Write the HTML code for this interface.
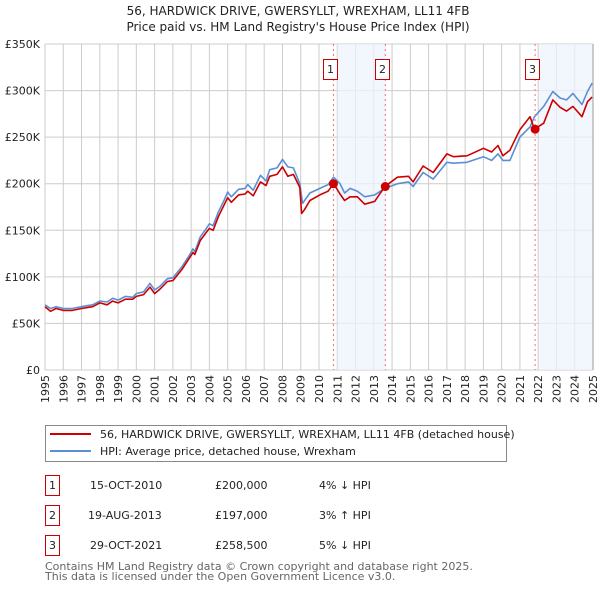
<!DOCTYPE html>
<html><head><meta charset="utf-8"><style>
body{margin:0;background:#fff;font-family:"DejaVu Sans","Liberation Sans",sans-serif;}
#wrap{position:relative;width:600px;height:590px;overflow:hidden}
svg text{font-family:"DejaVu Sans","Liberation Sans",sans-serif}
</style></head><body><div id="wrap">
<svg id="chart" width="600" height="590" xmlns="http://www.w3.org/2000/svg">
<text x="298" y="15" text-anchor="middle" font-size="12" fill="#222">56, HARDWICK DRIVE, GWERSYLLT, WREXHAM, LL11 4FB</text>
<text x="298" y="31" text-anchor="middle" font-size="12" fill="#222">Price paid vs. HM Land Registry's House Price Index (HPI)</text>
<g id="grid"></g><g id="shade"></g><g id="series"></g><g id="marks"></g><g id="axes"></g>
<g>
<rect x="45.5" y="425.5" width="461" height="36" fill="#fff" stroke="#888"/>
<line x1="50" y1="434" x2="91" y2="434" stroke="#cc0000" stroke-width="2"/>
<text x="100" y="438" font-size="11" fill="#222">56, HARDWICK DRIVE, GWERSYLLT, WREXHAM, LL11 4FB (detached house)</text>
<line x1="50" y1="451" x2="91" y2="451" stroke="#5b8fd4" stroke-width="2"/>
<text x="100" y="455" font-size="11" fill="#222">HPI: Average price, detached house, Wrexham</text>
</g>
<g font-size="11" fill="#222">
<rect x="45.5" y="475.5" width="14" height="20" fill="#fff" stroke="#cc0000"/><text x="52.5" y="489" text-anchor="middle">1</text>
<text x="90" y="489">15-OCT-2010</text><text x="215" y="489">£200,000</text><text x="319" y="489">4% ↓ HPI</text>
<rect x="45.5" y="505.5" width="14" height="20" fill="#fff" stroke="#cc0000"/><text x="52.5" y="519" text-anchor="middle">2</text>
<text x="88" y="519">19-AUG-2013</text><text x="215" y="519">£197,000</text><text x="319" y="519">3% ↑ HPI</text>
<rect x="45.5" y="535.5" width="14" height="20" fill="#fff" stroke="#cc0000"/><text x="52.5" y="549" text-anchor="middle">3</text>
<text x="90" y="549">29-OCT-2021</text><text x="215" y="549">£258,500</text><text x="319" y="549">5% ↓ HPI</text>
</g>
<text x="45" y="570" font-size="11" fill="#666">Contains HM Land Registry data © Crown copyright and database right 2025.</text>
<text x="45" y="580" font-size="11" fill="#666">This data is licensed under the Open Government Licence v3.0.</text>
</svg></div>
<script>
const yearTicks=[1995,1996,1997,1998,1999,2000,2001,2002,2003,2004,2005,2006,2007,2008,2009,2010,2011,2012,2013,2014,2015,2016,2017,2018,2019,2020,2021,2022,2023,2024,2025];
const valueTicks=[0,50,100,150,200,250,300,350];
const valueTickLabels=["£0","£50K","£100K","£150K","£200K","£250K","£300K","£350K"];
const hpiYears=[1995,1995.3,1995.6,1996,1996.5,1997,1997.3,1997.6,1998,1998.4,1998.7,1999,1999.4,1999.8,2000,2000.4,2000.75,2001,2001.3,2001.7,2002,2002.5,2002.9,2003.1,2003.2,2003.5,2003.8,2004,2004.2,2004.5,2004.8,2005,2005.2,2005.6,2005.95,2006.1,2006.4,2006.8,2007.1,2007.3,2007.7,2008,2008.3,2008.6,2008.95,2009.1,2009.5,2010.05,2010.5,2010.8,2011.15,2011.4,2011.7,2012.1,2012.5,2013.05,2013.6,2014.3,2014.9,2015.15,2015.7,2016.25,2017,2017.35,2018.1,2019,2019.45,2019.8,2020.07,2020.45,2021,2021.55,2021.8,2022.3,2022.8,2023.2,2023.55,2023.9,2024.4,2024.7,2024.95];
const hpiValues=[70,66,68,66,66,68,69,70,74,73,77,75,79,78,82,84,93,86,90,98,99,111,123,130,127,143,151,157,155,170,182,191,186,194,195,199,193,209,203,215,217,226,218,217,200,179,190,195,199,207,200,190,195,192,186,188,195,200,202,197,212,205,223,222,223,229,225,232,225,225,250,261,272,283,299,292,290,297,285,299,308];
const ppYears=[1995,1995.3,1995.6,1996,1996.5,1997,1997.3,1997.6,1998,1998.4,1998.7,1999,1999.4,1999.8,2000,2000.4,2000.75,2001,2001.3,2001.7,2002,2002.5,2002.9,2003.1,2003.2,2003.5,2003.8,2004,2004.2,2004.5,2004.8,2005,2005.2,2005.6,2005.95,2006.1,2006.4,2006.8,2007.1,2007.3,2007.7,2008,2008.3,2008.6,2008.95,2009.05,2009.2,2009.5,2010.05,2010.5,2010.8,2011.15,2011.4,2011.7,2012.1,2012.5,2013.05,2013.6,2014.3,2014.9,2015.15,2015.7,2016.25,2017,2017.35,2018.1,2019,2019.45,2019.8,2020.07,2020.45,2021,2021.55,2021.8,2022.3,2022.8,2023.2,2023.55,2023.9,2024.4,2024.7,2024.95];
const ppValues=[68,63,66,64,64,66,67,68,72,70,74,72,76,76,79,81,89,82,87,95,96,108,120,126,124,139,147,152,150,165,177,185,180,188,189,192,187,202,198,208,210,218,208,210,196,168,172,182,188,192,200,189,182,186,186,178,181,197,207,208,202,219,212,232,229,230,238,234,241,230,236,258,272,258.5,265,290,282,278,283,272,288,293];
const saleLabels=["1","2","3"];
const saleYears=[2010.79,2013.63,2021.83];
const saleValues=[200,197,258.5];
const NS='http://www.w3.org/2000/svg';
const X0=45,X1=593,Y0=370,Y1=44;
const xs=y=>X0+(y-1995)*(X1-X0)/30;
const ys=v=>Y0-v*(Y0-Y1)/350;
function mk(tag,attrs,parent){const e=document.createElementNS(NS,tag);for(const k in attrs)e.setAttribute(k,attrs[k]);parent.appendChild(e);return e;}
const grid=document.getElementById('grid'),axes=document.getElementById('axes'),shade=document.getElementById('shade'),series=document.getElementById('series'),marks=document.getElementById('marks');
mk('rect',{x:X0,y:Y1,width:X1-X0,height:Y0-Y1,fill:'#fff'},grid);
{const s=mk('rect',{x:xs(saleYears[0])+4,y:Y1,width:xs(saleYears[1])-xs(saleYears[0])-4,height:Y0-Y1,fill:'#eef3fc',opacity:0.75},shade);


const s2=mk('rect',{x:xs(saleYears[2])+4,y:Y1,width:X1-xs(saleYears[2])-4,height:Y0-Y1,fill:'#eef3fc',opacity:0.75},shade);

}
yearTicks.forEach(y=>{const l=mk('line',{x1:xs(y),x2:xs(y),y1:Y1,y2:Y0,stroke:'#ccc','stroke-width':1},grid);


const t=mk('text',{x:0,y:0,'font-size':11,fill:'#222','text-anchor':'end',transform:`translate(${xs(y)+4},375) rotate(-90)`},axes);t.textContent=y;

});
valueTicks.forEach((v,i)=>{const l=mk('line',{x1:X0,x2:X1,y1:ys(v),y2:ys(v),stroke:'#ccc','stroke-width':1},grid);


const t=mk('text',{x:40,y:ys(v)+4,'font-size':11,fill:'#222','text-anchor':'end'},axes);t.textContent=valueTickLabels[i];

});
mk('line',{x1:X1,x2:X1,y1:Y1,y2:Y0,stroke:'#999'},axes);
function path(xsA,vs){return xsA.map((y,i)=>(i?'L':'M')+xs(y).toFixed(1)+','+ys(vs[i]).toFixed(1)).join('');}
const hp=mk('path',{d:path(hpiYears,hpiValues),fill:'none',stroke:'#5b8fd4','stroke-width':1.6,'stroke-linejoin':'round'},series);


const pp=mk('path',{d:path(ppYears,ppValues),fill:'none',stroke:'#cc0000','stroke-width':1.6,'stroke-linejoin':'round'},series);


saleYears.forEach((y,i)=>{const x=xs(y);
const l=mk('line',{x1:x,x2:x,y1:Y1,y2:Y0,stroke:'#f07070','stroke-dasharray':'2,3','stroke-width':1},marks);


const d=mk('circle',{cx:x,cy:ys(saleValues[i]),r:4.5,fill:'#cc0000'},marks);


const b=mk('rect',{x:Math.round(x-10)+0.5,y:59.5,width:14,height:20,fill:'#fff',stroke:'#cc0000'},marks);


const t=mk('text',{x:Math.round(x-10)+7.5,y:73,'font-size':11,fill:'#222','text-anchor':'middle'},marks);t.textContent=saleLabels[i];

});
</script></body></html>
